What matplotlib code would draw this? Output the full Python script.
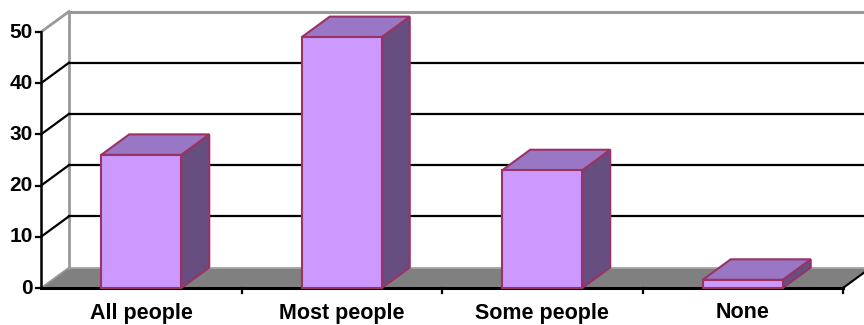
import matplotlib
matplotlib.use("Agg")
import matplotlib.pyplot as plt
from matplotlib.patches import Polygon

categories = ["All people", "Most people", "Some people", "None"]
values = [26, 49, 23, 1.6]
yticks = [0, 10, 20, 30, 40, 50]

W, H = 864, 325
fig = plt.figure(figsize=(W / 100, H / 100), dpi=100)
ax = fig.add_axes([0, 0, 1, 1])
ax.set_axis_off()

# pixel geometry of the front plane
x0px, x1px = 41, 843
y0px, ypx_per = 288, 5.12
ucat = (x1px - x0px) / len(categories)
ax.set_xlim(-x0px / ucat, (W - x0px) / ucat)
ax.set_ylim((y0px - H) / ypx_per, y0px / ypx_per)

DX = 28 / ucat
DY = 20.5 / ypx_per
n = len(categories)
ymax = yticks[-1]
xr = (W - x0px) / ucat + 0.1

# floor
ax.add_patch(Polygon([(0, 0), (DX, DY), (n + DX, DY), (n, 0)], closed=True,
                     facecolor="#808080", edgecolor="none", zorder=1))
ax.plot([0, DX], [0, DY], color="#9a9a9a", lw=1.2, zorder=2)
ax.plot([DX, xr], [DY, DY], color="#a8a8a8", lw=1.2, zorder=2)
ax.plot([n, n + DX], [0, DY], color="black", lw=1.5, zorder=2)

# back wall left edge and top
ax.plot([DX, DX], [DY, ymax + DY], color="#999999", lw=2, zorder=2)
ax.plot([0, DX], [ymax, ymax + DY], color="#999999", lw=2, zorder=2)
ax.plot([DX, xr], [ymax + DY, ymax + DY], color="#999999", lw=2.2, zorder=2)

# gridlines
for t in yticks[1:-1]:
    ax.plot([0, DX], [t, t + DY], color="black", lw=1.6, zorder=2)
    ax.plot([DX, xr], [t + DY, t + DY], color="black", lw=1.6, zorder=2)

# front axes
ax.plot([0, 0], [0, ymax], color="black", lw=1.8, zorder=5)
ax.plot([0, n], [0, 0], color="black", lw=2.2, zorder=5)
tick_u = 5 / ucat
tick_v = 5 / ypx_per
for t in yticks:
    ax.plot([-tick_u, 0], [t, t], color="black", lw=1.6, zorder=5)
    ax.text(-tick_u - 3 / ucat, t, str(t), ha="right", va="center",
            fontsize=15, fontweight="bold", family="Liberation Sans")
for k in range(1, n + 1):
    ax.plot([k, k], [0, -tick_v], color="black", lw=1.6, zorder=5)

# bars
front_c = "#CC99FF"
top_c = "#9977C4"
side_c = "#664E80"
edge_c = "#993366"
bw = 80 / ucat
for i, (c, v) in enumerate(zip(categories, values)):
    xl = i + 0.5 - bw / 2
    xr_ = i + 0.5 + bw / 2
    ax.add_patch(Polygon([(xr_, 0), (xr_ + DX, DY), (xr_ + DX, v + DY), (xr_, v)],
                         closed=True, facecolor=side_c, edgecolor=edge_c, lw=1.5, zorder=6))
    ax.add_patch(Polygon([(xl, v), (xl + DX, v + DY), (xr_ + DX, v + DY), (xr_, v)],
                         closed=True, facecolor=top_c, edgecolor=edge_c, lw=1.5, zorder=6))
    ax.add_patch(Polygon([(xl, 0), (xl, v), (xr_, v), (xr_, 0)],
                         closed=True, facecolor=front_c, edgecolor=edge_c, lw=1.5, zorder=7))
    ax.text(i + 0.5, -(313 - y0px) / ypx_per, c, ha="center", va="center",
            fontsize=15.5, fontweight="bold", family="Liberation Sans")

fig.savefig("out.png", dpi=100)
